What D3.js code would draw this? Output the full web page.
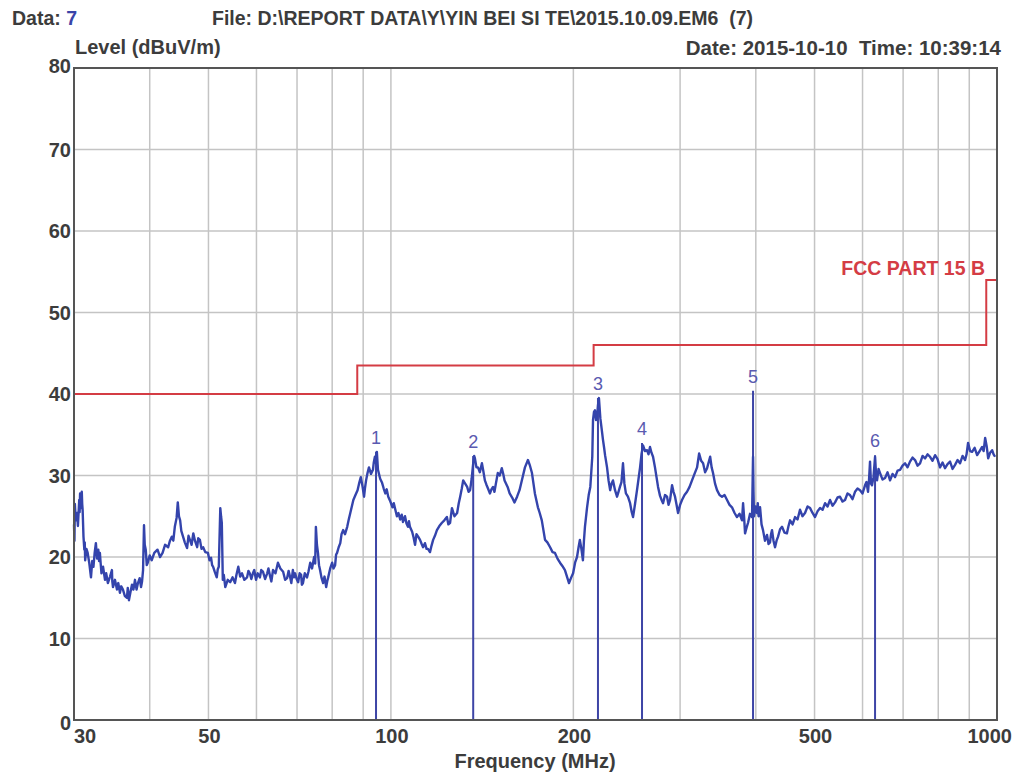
<!DOCTYPE html>
<html>
<head>
<meta charset="utf-8">
<script src="https://cdn.jsdelivr.net/npm/d3@7"></script>
<style>
  html, body { margin: 0; padding: 0; background: #ffffff; }
  svg { display: block; }
  text { font-family: "Liberation Sans", Arial, sans-serif; }
</style>
</head>
<body>
<svg id="chart" width="1020" height="776"></svg>
<script>
// ---------- data ----------
const yTicks = [0, 10, 20, 30, 40, 50, 60, 70, 80];
const xTickLabels = [30, 50, 100, 200, 500, 1000];
const xGrid = [40, 50, 60, 70, 80, 90, 100, 200, 300, 400, 500, 600, 700, 800, 900];

const limitEdges = [30, 88, 216, 960, 1000];
const limitLevels = [40, 43.5, 46, 54];

const markerFreq = [94.5, 136.7, 219.6, 259.6, 395.8, 629.2];
const markerLevel = [32.9, 32.4, 39.5, 34.0, 40.4, 32.5];
const markerLabel = ["1", "2", "3", "4", "5", "6"];

// measured trace: [frequency MHz, level dBuV/m]
const trace = [
  [30.0,24.0],[30.05,22.0],[30.1,26.5],[30.2,24.5],[30.35,25.4],[30.45,23.8],[30.6,27.0],[30.65,25.5],
  [30.7,27.8],[30.8,26.0],[30.9,28.0],[30.95,26.5],[31.0,25.8],[31.1,22.5],[31.2,20.9],[31.25,21.8],
  [31.3,19.6],[31.45,21.0],[31.6,20.5],[31.8,19.2],[32.0,17.5],[32.15,19.5],[32.3,18.8],[32.45,20.5],
  [32.6,21.7],[32.75,19.8],[32.9,20.9],[33.0,19.5],[33.1,20.5],[33.2,19.2],[33.3,18.0],[33.5,18.8],
  [33.75,17.2],[33.9,18.0],[34.12,16.8],[34.4,17.6],[34.65,18.4],[34.7,17.0],[34.79,16.3],[35.05,17.2],
  [35.32,16.0],[35.5,16.8],[35.72,15.6],[35.9,16.4],[36.13,16.0],[36.4,15.2],[36.68,15.0],[36.8,16.2],
  [36.96,14.7],[37.2,15.8],[37.39,16.6],[37.6,16.0],[37.82,17.2],[38.05,16.0],[38.25,16.8],[38.5,17.4],
  [38.7,16.3],[38.85,17.0],[39.0,18.4],[39.14,23.9],[39.25,21.5],[39.4,20.9],[39.55,19.0],[39.7,19.3],
  [40.0,20.2],[40.3,19.6],[40.7,20.5],[41.2,20.9],[41.6,20.0],[42.0,20.5],[42.4,21.5],[42.9,21.2],
  [43.2,22.0],[43.5,22.5],[43.75,22.0],[44.0,23.7],[44.3,24.8],[44.5,26.7],[44.7,25.0],[44.9,24.5],
  [45.1,23.2],[45.4,22.5],[45.7,21.8],[46.1,21.1],[46.35,22.6],[46.6,22.1],[46.9,21.5],[47.2,22.9],
  [47.5,22.0],[47.9,21.2],[48.1,22.3],[48.4,22.1],[48.7,21.0],[49.0,21.2],[49.4,20.6],[49.9,20.5],
  [50.2,19.6],[50.5,19.9],[50.7,19.0],[50.9,18.8],[51.2,18.2],[51.6,17.5],[51.8,18.5],[52.0,18.8],
  [52.3,26.0],[52.45,25.0],[52.6,24.2],[52.8,17.2],[53.0,17.8],[53.3,16.3],[53.8,17.2],[54.3,16.9],
  [54.8,17.5],[55.3,16.8],[55.6,17.8],[56.0,18.8],[56.4,17.6],[56.8,18.0],[57.3,17.2],[57.9,17.5],
  [58.2,18.3],[58.5,18.0],[58.85,17.3],[59.2,18.0],[59.5,18.4],[59.9,17.2],[60.3,18.0],[60.8,17.5],
  [61.1,18.4],[61.5,18.2],[62.0,17.3],[62.5,18.0],[62.8,18.6],[63.2,17.6],[63.5,17.0],[63.9,18.4],
  [64.5,18.0],[65.1,19.3],[65.7,18.6],[66.4,18.2],[66.9,17.2],[67.4,17.4],[67.8,18.3],[68.2,17.5],
  [68.5,16.8],[68.9,18.4],[69.2,17.5],[69.5,18.0],[69.9,17.3],[70.3,16.9],[70.7,18.0],[71.1,17.8],
  [71.3,16.6],[71.6,16.8],[72.1,18.0],[72.7,17.5],[73.1,18.2],[73.6,19.3],[74.1,18.6],[74.7,20.0],
  [75.0,19.2],[75.2,23.7],[75.5,21.5],[75.8,20.5],[76.1,19.0],[76.4,18.4],[76.8,17.5],[77.3,16.8],
  [77.7,17.6],[78.2,16.3],[78.5,17.0],[78.8,17.5],[79.4,18.6],[80.0,19.3],[80.4,18.6],[80.9,19.0],
  [81.2,20.3],[81.5,20.5],[82.0,21.2],[82.5,21.7],[82.9,22.8],[83.4,23.3],[84.0,22.8],[84.7,23.7],
  [85.2,24.6],[85.7,25.4],[86.2,26.2],[86.7,27.0],[87.4,27.6],[88.1,28.2],[88.6,29.0],[89.2,29.8],
  [89.8,28.6],[90.3,27.4],[90.6,28.4],[91.0,29.4],[91.5,30.3],[92.0,31.0],[92.7,30.2],[93.4,30.7],
  [93.7,31.6],[94.1,32.3],[94.5,31.5],[94.8,32.9],[95.0,31.8],[95.2,30.7],[96.0,29.6],[96.7,29.1],
  [97.3,28.4],[97.9,27.8],[98.4,28.3],[99.0,27.4],[99.8,26.8],[100.6,26.1],[101.1,26.6],[101.7,25.8],
  [102.3,25.0],[102.9,25.4],[103.6,24.6],[104.2,25.2],[104.7,24.3],[105.5,25.0],[106.1,24.1],[106.7,23.7],
  [107.1,24.4],[107.5,23.7],[108.4,23.1],[109.0,22.4],[109.6,21.5],[110.2,22.8],[110.9,22.5],[111.7,22.1],
  [112.4,21.6],[113.0,21.2],[113.8,21.7],[114.5,21.0],[115.1,21.0],[116.0,20.6],[116.7,21.4],[117.4,22.1],
  [118.2,22.6],[119.1,23.3],[120.2,23.8],[121.4,24.2],[122.5,24.5],[123.7,24.9],[124.4,24.0],[125.2,24.2],
  [126.1,26.0],[127.3,25.0],[128.6,25.4],[129.4,26.6],[130.1,27.4],[130.9,28.4],[131.6,29.4],[132.6,29.0],
  [133.6,28.6],[134.3,28.0],[135.1,28.2],[135.9,29.6],[136.7,31.5],[137.2,32.4],[137.6,32.1],[138.4,31.0],
  [139.2,31.0],[140.2,30.4],[141.3,31.5],[142.1,30.5],[142.9,29.4],[143.7,28.9],[144.6,28.4],[145.7,27.8],
  [146.5,28.3],[147.4,28.6],[148.2,28.0],[149.0,29.0],[150.1,30.3],[151.2,30.0],[152.4,30.9],[153.2,30.2],
  [154.0,29.4],[155.8,28.6],[157.0,27.8],[158.5,27.3],[159.9,26.7],[161.5,27.4],[163.0,28.2],[164.7,29.6],
  [166.4,31.0],[168.3,31.9],[169.6,31.2],[170.9,30.3],[172.8,27.8],[174.8,26.1],[176.0,25.4],[177.4,24.5],
  [179.6,22.1],[181.2,21.8],[183.1,21.2],[184.8,20.6],[186.5,20.5],[188.3,19.8],[190.1,19.3],[191.8,18.9],
  [193.7,18.4],[195.2,17.6],[196.7,16.8],[198.4,17.5],[199.8,18.0],[201.3,19.3],[202.8,20.0],[204.0,21.2],
  [205.0,22.1],[206.2,21.0],[207.4,19.6],[208.2,22.0],[209.0,23.7],[210.7,26.1],[212.0,27.6],[213.3,28.6],
  [214.9,32.3],[215.5,36.8],[216.3,37.8],[217.1,38.0],[218.0,36.8],[218.8,37.2],[219.6,38.6],[220.4,39.5],
  [221.6,37.0],[222.8,35.6],[223.8,34.4],[224.7,33.5],[225.6,32.5],[227.3,31.0],[228.6,29.4],[230.0,28.2],
  [231.2,29.0],[232.5,29.4],[234.3,28.2],[236.1,27.4],[237.4,28.0],[238.7,28.6],[240.1,29.2],[241.5,31.5],
  [242.8,29.0],[244.2,27.8],[246.1,27.4],[248.1,26.6],[249.5,25.6],[250.9,24.9],[252.8,26.5],[254.7,28.2],
  [256.2,29.6],[257.7,31.0],[259.1,32.6],[260.6,33.7],[262.6,33.0],[264.6,33.1],[266.1,32.6],[267.6,33.5],
  [269.1,32.8],[270.7,32.3],[272.7,31.0],[274.3,29.8],[275.9,28.6],[278.0,27.5],[279.6,27.0],[281.2,26.6],
  [283.3,27.6],[285.5,27.4],[287.1,26.4],[288.8,27.0],[291.0,28.8],[292.6,28.0],[294.3,27.4],[296.0,26.4],
  [297.7,25.4],[300.0,26.4],[302.2,27.0],[305.1,27.6],[308.0,28.0],[311.0,28.6],[313.9,29.4],[316.9,30.2],
  [320.0,31.0],[322.5,32.7],[325.0,31.8],[327.4,31.5],[329.9,30.4],[332.4,30.9],[334.3,31.6],[336.3,32.3],
  [338.2,31.0],[340.0,30.3],[342.6,29.0],[345.2,28.2],[348.5,27.6],[351.8,27.4],[355.2,27.6],[358.6,27.0],
  [362.0,26.4],[365.4,26.1],[369.0,25.4],[372.4,24.9],[376.0,25.3],[379.6,24.5],[381.1,26.6],[382.5,25.0],
  [384.0,22.9],[386.2,23.6],[388.4,24.2],[391.3,25.3],[394.3,24.9],[395.8,32.3],[396.5,28.0],[397.3,25.0],
  [399.5,26.2],[401.8,25.4],[403.0,26.6],[404.2,25.0],[406.5,26.1],[408.8,24.0],[411.1,23.3],[414.2,22.0],
  [417.4,22.7],[419.8,21.6],[422.2,21.8],[423.8,22.8],[425.4,23.3],[427.8,22.0],[430.3,21.2],[432.8,22.0],
  [435.3,22.5],[438.6,23.4],[441.9,23.7],[446.0,23.0],[450.2,22.9],[452.9,23.8],[455.6,24.5],[460.0,24.0],
  [464.3,24.9],[468.7,24.6],[473.1,25.8],[477.6,25.0],[482.2,25.4],[486.9,26.2],[491.6,26.0],[496.2,25.4],
  [500.9,24.9],[505.7,25.6],[510.6,26.0],[515.5,25.8],[520.4,26.6],[525.3,26.2],[530.3,27.0],[535.4,26.3],
  [540.5,26.7],[545.6,27.3],[550.8,27.4],[556.1,26.8],[561.4,27.0],[566.7,27.8],[572.1,27.6],[577.6,27.1],
  [583.1,28.0],[588.7,28.4],[594.3,28.2],[600.0,27.8],[605.7,28.8],[609.0,29.2],[612.6,28.0],[615.0,29.5],
  [617.3,31.7],[619.6,29.0],[622.0,28.8],[625.5,29.8],[629.2,32.3],[631.6,30.2],[634.0,29.4],[637.6,30.8],
  [641.3,30.3],[647.4,29.5],[653.6,29.7],[659.8,30.4],[666.1,29.4],[672.5,30.2],[678.9,29.8],[685.4,30.6],
  [691.9,30.7],[698.5,31.2],[705.2,31.5],[711.9,31.0],[718.6,31.7],[725.5,32.2],[732.5,31.9],[739.5,31.2],
  [746.5,31.5],[753.7,32.4],[760.9,32.1],[768.1,32.6],[775.4,32.3],[782.8,31.8],[790.3,32.5],[797.8,32.0],
  [805.4,31.0],[813.1,31.6],[820.9,30.9],[828.7,31.4],[836.6,31.7],[844.6,30.8],[852.7,31.3],[860.8,31.9],
  [869.0,31.5],[877.4,32.4],[885.8,31.9],[890.8,32.6],[895.9,34.0],[902.8,33.0],[909.7,32.9],[918.5,33.4],
  [927.3,32.5],[936.1,33.0],[945.0,33.5],[950.5,33.0],[956.0,34.6],[961.5,33.6],[967.0,32.1],[974.3,32.8],
  [981.7,33.1],[987.2,32.6],[992.7,32.3]
];

// ---------- layout ----------
const svg = d3.select("#chart");
const pL = 74, pR = 997, pT = 68, pB = 720;
const x = d3.scaleLog().domain([30, 1000]).range([pL, pR]);
const y = d3.scaleLinear().domain([0, 80]).range([pB, pT]);

const textColor = "#3c3c3c";
const fs = 20;

// grid
svg.append("g").selectAll("line").data(xGrid).join("line")
  .attr("x1", d => x(d)).attr("x2", d => x(d))
  .attr("y1", pT).attr("y2", pB)
  .attr("stroke", "#c4c4c4").attr("stroke-width", 1.5);
svg.append("g").selectAll("line").data(yTicks.filter(d => d > 0 && d < 80)).join("line")
  .attr("x1", pL).attr("x2", pR)
  .attr("y1", d => y(d)).attr("y2", d => y(d))
  .attr("stroke", "#c4c4c4").attr("stroke-width", 1.5);

// limit line
const limitPts = limitLevels.map((v, i) => [limitEdges[i], v]);
limitPts.push([limitEdges[limitEdges.length - 1], limitLevels[limitLevels.length - 1]]);
svg.append("path")
  .attr("d", d3.line().x(d => x(d[0])).y(d => y(d[1])).curve(d3.curveStepAfter)(limitPts))
  .attr("fill", "none").attr("stroke", "#d43c44").attr("stroke-width", 2);

// marker lines
svg.append("g").selectAll("line").data(markerFreq).join("line")
  .attr("x1", d => x(d)).attr("x2", d => x(d))
  .attr("y1", y(0)).attr("y2", (d, i) => y(markerLevel[i]))
  .attr("stroke", "#3d45a6").attr("stroke-width", 2);

// trace
svg.append("path")
  .attr("d", d3.line().x(d => x(d[0])).y(d => y(d[1]))(trace))
  .attr("fill", "none").attr("stroke", "#3444ac").attr("stroke-width", 2.4)
  .attr("stroke-linejoin", "round");

// marker labels
svg.append("g").selectAll("text").data(markerLabel).join("text")
  .attr("x", (d, i) => x(markerFreq[i]))
  .attr("y", (d, i) => y(markerLevel[i]) - 8)
  .attr("text-anchor", "middle")
  .attr("font-size", 18).attr("fill", "#5a5ab0")
  .text(d => d);

// frame
svg.append("rect")
  .attr("x", pL).attr("y", pT).attr("width", pR - pL).attr("height", pB - pT)
  .attr("fill", "none").attr("stroke", "#555").attr("stroke-width", 2);

// y tick labels
svg.append("g").selectAll("text").data(yTicks).join("text")
  .attr("x", pL - 3).attr("y", d => y(d) + (d === 0 ? 10 : (d === 80 ? 5 : 7)))
  .attr("text-anchor", "end")
  .attr("font-size", fs).attr("font-weight", "bold").attr("fill", textColor)
  .text(d => d);

// x tick labels
const nX = xTickLabels.length;
svg.append("g").selectAll("text").data(xTickLabels).join("text")
  .attr("x", (d, i) => i === 0 ? x(d) : (i === nX - 1 ? x(d) + 15 : x(d) + 1))
  .attr("y", pB + 23)
  .attr("text-anchor", (d, i) => i === 0 ? "start" : (i === nX - 1 ? "end" : "middle"))
  .attr("font-size", fs).attr("font-weight", "bold").attr("fill", textColor)
  .text(d => d);

// titles
svg.append("text").attr("x", 535).attr("y", 768).attr("text-anchor", "middle")
  .attr("font-size", fs).attr("font-weight", "bold").attr("fill", textColor)
  .text("Frequency (MHz)");
svg.append("text").attr("x", 75).attr("y", 54)
  .attr("font-size", fs).attr("font-weight", "bold").attr("fill", textColor)
  .text("Level (dBuV/m)");

const dataTxt = svg.append("text").attr("x", 12).attr("y", 25)
  .attr("font-size", 19.5).attr("font-weight", "bold").attr("fill", textColor);
dataTxt.append("tspan").text("Data: ");
dataTxt.append("tspan").attr("fill", "#3a44a8").text("7");

svg.append("text").attr("x", 212).attr("y", 25)
  .attr("font-size", 19.5).attr("font-weight", "bold").attr("fill", textColor)
  .attr("xml:space", "preserve")
  .text("File: D:\\REPORT DATA\\Y\\YIN BEI SI TE\\2015.10.09.EM6  (7)");

svg.append("text").attr("x", 1001).attr("y", 55).attr("text-anchor", "end")
  .attr("font-size", 20.5).attr("font-weight", "bold").attr("fill", textColor)
  .attr("xml:space", "preserve")
  .text("Date: 2015-10-10  Time: 10:39:14");

svg.append("text").attr("x", 985).attr("y", 275).attr("text-anchor", "end")
  .attr("font-size", 19.5).attr("font-weight", "bold").attr("fill", "#d43c44")
  .text("FCC PART 15 B");
</script>
</body>
</html>
